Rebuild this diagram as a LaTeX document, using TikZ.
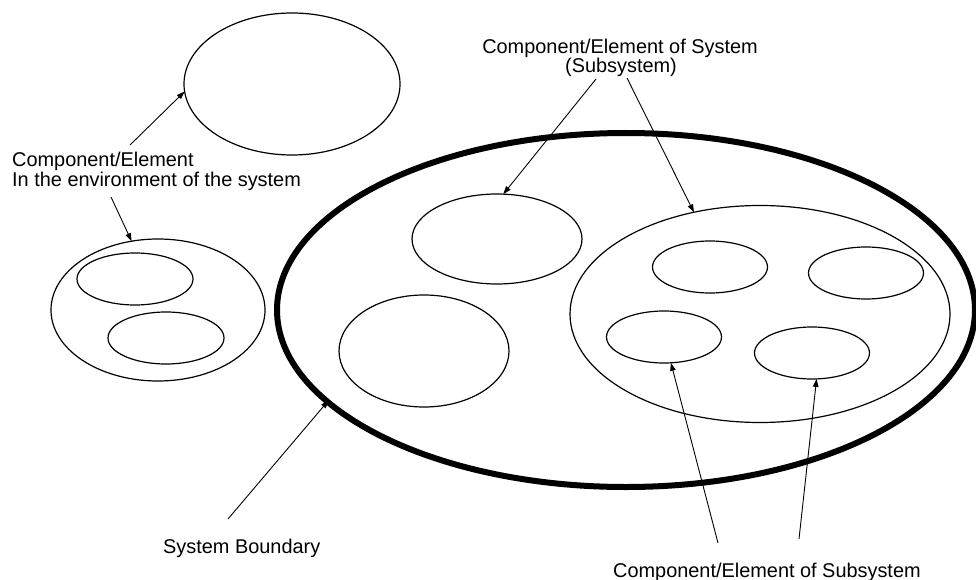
\documentclass[tikz,border=0pt]{standalone}
\usepackage{fontspec}
\setmainfont{Liberation Sans}
\usetikzlibrary{shapes.geometric,arrows.meta}
\begin{document}
\begin{tikzpicture}[x=1pt,y=-1pt,
  ell/.style={draw, ellipse, line width=1.2pt, inner sep=0pt, outer sep=0pt},
  boundary/.style={draw, ellipse, line width=6pt, inner sep=0pt, outer sep=0pt},
  lbl/.style={inner sep=0pt, font=\fontsize{19.9pt}{19pt}\selectfont},
  pointer/.style={line width=0.9pt, -{Triangle[length=8pt,width=5.5pt]}}]
\useasboundingbox (0,0) rectangle (976,580);
% system boundary
\node[boundary, minimum width=698pt, minimum height=354pt] (sysb) at (626,310) {};
% environment components
\node[ell, minimum width=216pt, minimum height=142pt] (envtop) at (292,84) {};
\node[ell, minimum width=214pt, minimum height=142pt] (envleft) at (158,310) {};
\node[ell, minimum width=116pt, minimum height=52pt] (envin1) at (135,279) {};
\node[ell, minimum width=116pt, minimum height=52pt] (envin2) at (166,338) {};
% components of system
\node[ell, minimum width=170pt, minimum height=90pt] (compa) at (497,239) {};
\node[ell, minimum width=170pt, minimum height=112pt] (compb) at (424,351) {};
\node[ell, minimum width=380pt, minimum height=217pt] (subsys) at (760,314) {};
% components of subsystem
\node[ell, minimum width=115pt, minimum height=52pt] (s1) at (710,267) {};
\node[ell, minimum width=115pt, minimum height=52pt] (s2) at (866,273) {};
\node[ell, minimum width=115pt, minimum height=52pt] (s3) at (664,337) {};
\node[ell, minimum width=115pt, minimum height=52pt] (s4) at (812,353) {};
% labels
\node[lbl, anchor=base west] (envlbla) at (12,167) {Component/Element};
\node[lbl, anchor=base west] (envlblb) at (12,186) {In the environment of the system};
\node[lbl, anchor=base] (syslbla) at (620,54) {Component/Element of System};
\node[lbl, anchor=base] (syslblb) at (621,73) {(Subsystem)};
\node[lbl, anchor=base west] (bndlbl) at (163,553) {System Boundary};
\node[lbl, anchor=base west] (sublbl) at (613,577) {Component/Element of Subsystem};
% arrow start points
\coordinate (p1) at (130,145);
\coordinate (p2) at (111,197);
\coordinate (p3) at (228,519);
\coordinate (p4) at (596,79);
\coordinate (p5) at (627,78);
\coordinate (p6) at (718,543);
\coordinate (p7) at (799,539);
% arrows
\draw[pointer] (p1) -- (envtop.184.4);
\draw[pointer] (p2) -- (envleft.111.8);
\draw[pointer] (p3) -- ([shift={(1.5,-1)}]sysb.197.5);
\draw[pointer] (p4) -- (compa.82.6);
\draw[pointer] (p5) -- (subsys.123.3);
\draw[pointer] (p6) -- (s3.285.4);
\draw[pointer] (p7) -- (s4.280.6);
\end{tikzpicture}
\end{document}
